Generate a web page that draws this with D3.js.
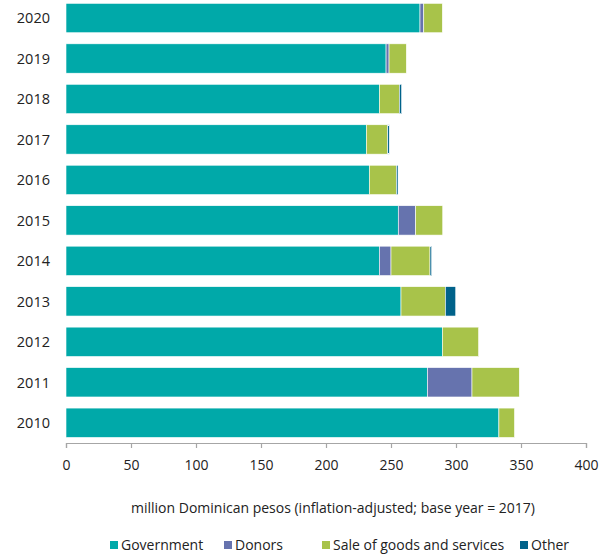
<!DOCTYPE html>
<html>
<head>
<meta charset="utf-8">
<script src="https://cdn.jsdelivr.net/npm/d3@7"></script>
<style>
  body { margin: 0; background: #fff; }
  text { font-family: "Open Sans", sans-serif; fill: #222; }
</style>
</head>
<body>
<div id="chart"></div>
<script>
// data (million DOP, base year 2017)
const years = ["2020", "2019", "2018", "2017", "2016", "2015", "2014", "2013", "2012", "2011", "2010"];
const government = [272.3, 246.2, 241, 231, 233.3, 255.6, 241, 257.7, 289.5, 278, 333];
const donors     = [2.9, 2.3, 0, 0, 0, 13.4, 9, 0, 0, 34.3, 0];
const sales      = [14.3, 13.3, 15.4, 16.5, 20.9, 20.8, 30, 34.1, 27.9, 36.4, 12];
const other      = [0, 0, 1.8, 1.2, 1.2, 0, 1.3, 8, 0, 0, 0];
const seriesNames = ["Government", "Donors", "Sale of goods and services", "Other"];
const seriesColors = ["#00a9a9", "#6673ae", "#a8c34a", "#00628a"];
const xTicks = [0, 50, 100, 150, 200, 250, 300, 350, 400];

const width = 608, height = 554;
const margin = { left: 66, right: 22, top: -2.2, axis: 443 };

const rows = years.map((yr, i) => ({
  year: yr,
  "Government": government[i],
  "Donors": donors[i],
  "Sale of goods and services": sales[i],
  "Other": other[i]
}));

const stack = d3.stack().keys(seriesNames)(rows);

const svg = d3.select("#chart")
  .append("svg")
  .attr("width", width)
  .attr("height", height);

// Scales
const x = d3.scaleLinear()
  .domain([0, 400])
  .range([margin.left, width - margin.right]);

const y = d3.scaleBand()
  .domain(years)
  .range([margin.top, margin.axis])
  .paddingInner(0.274)
  .paddingOuter(0.137);

const color = d3.scaleOrdinal()
  .domain(seriesNames)
  .range(seriesColors);

// Bars
svg.append("g")
  .selectAll("g")
  .data(stack)
  .join("g")
  .attr("fill", d => color(d.key))
  .selectAll("rect")
  .data(d => d.filter(s => s[1] - s[0] > 0))
  .join("rect")
  .attr("x", d => x(d[0]))
  .attr("y", d => y(d.data.year))
  .attr("width", d => x(d[1]) - x(d[0]))
  .attr("height", y.bandwidth())
  .attr("stroke", "#fff")
  .attr("stroke-width", 0.6);

// Year labels
svg.append("g")
  .selectAll("text")
  .data(years)
  .join("text")
  .attr("x", 50)
  .attr("y", d => y(d) + y.bandwidth() / 2)
  .attr("dy", "0.36em")
  .attr("text-anchor", "end")
  .style("font-size", "14.5px")
  .text(d => d);

// X axis
const xAxis = svg.append("g")
  .attr("transform", `translate(0,${margin.axis})`)
  .call(d3.axisBottom(x).tickValues(xTicks).tickSize(5).tickPadding(12));

xAxis.select(".domain").attr("stroke", "#a6a6a6").attr("stroke-width", 1.2);
xAxis.selectAll(".tick line").attr("stroke", "#a6a6a6").attr("stroke-width", 1.2);
xAxis.selectAll(".tick text")
  .style("font-family", "Open Sans, sans-serif")
  .style("font-size", "14px")
  .attr("fill", "#222");

// Axis title
svg.append("text")
  .attr("x", 333)
  .attr("y", 508)
  .attr("dy", "0.36em")
  .attr("text-anchor", "middle")
  .style("font-size", "14px")
  .text("million Dominican pesos (inflation-adjusted; base year = 2017)");

// Legend
const legendX = [110, 224, 322, 520];
const legend = svg.append("g");
seriesNames.forEach((name, i) => {
  const item = legend.append("g")
    .attr("transform", `translate(${legendX[i]}, 545)`);
  item.append("rect")
    .attr("x", 0)
    .attr("y", -4)
    .attr("width", 8)
    .attr("height", 8)
    .attr("fill", color(name));
  item.append("text")
    .attr("x", 11)
    .attr("y", 0)
    .attr("dy", "0.36em")
    .style("font-size", "14px")
    .text(name);
});
</script>
</body>
</html>
